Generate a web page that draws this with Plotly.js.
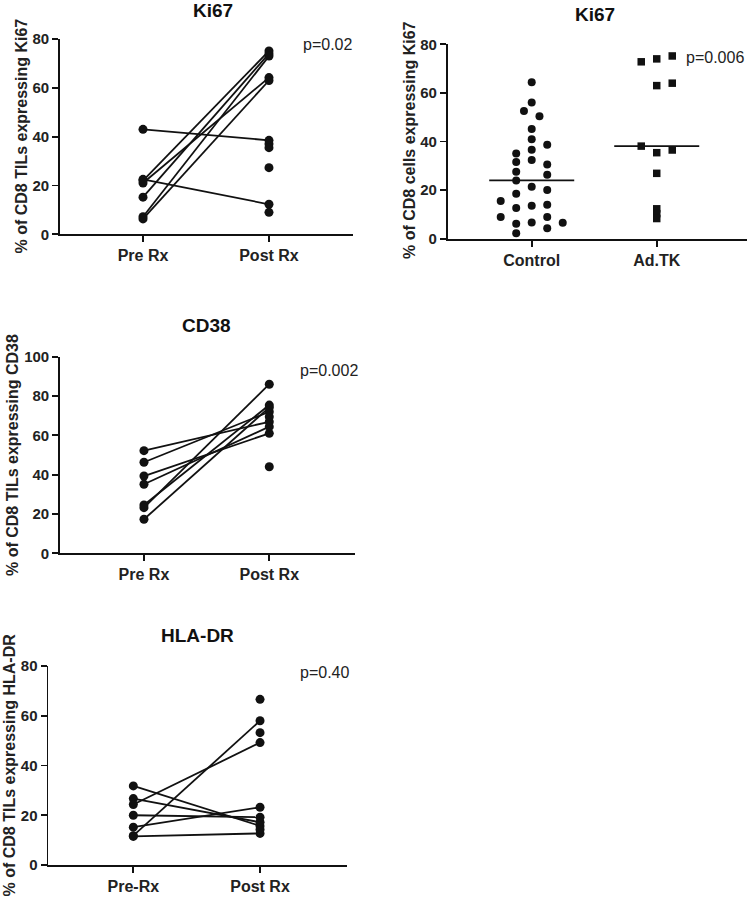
<!DOCTYPE html>
<html><head><meta charset="utf-8">
<script src="https://cdn.plot.ly/plotly-3.0.1.min.js"></script>
<style>html,body{margin:0;padding:0;background:#fff}#chart{width:747px;height:899px}</style>
</head><body><div id="chart"></div>
<script>
// ---------- data ----------
const prePostLabels = ["Pre Rx", "Post Rx"];
const hlaLabels = ["Pre-Rx", "Post Rx"];
const groupLabels = ["Control", "Ad.TK"];

// Ki67 paired (left)
const ki67Pre = [43, 22.5, 22, 21, 15.2, 7.2, 6.3];
const ki67Post = [38.5, 12.3, 75.1, 64.2, 74, 73, 63];
const ki67PostUnpaired = [37, 35.5, 27.3, 9];

// Ki67 groups (right)
const controlVals = [64.4, 56, 52.6, 50.4, 45.1, 40.9, 38.7, 36.6, 35.1, 32.4, 31.6, 30.5, 27.6, 26.3, 23.9, 21.4, 20, 18.5, 15.5, 13.6, 14, 12.6, 8.9, 8.9, 6.2, 6.7, 6.6, 4.3, 2.2];
const controlCols = [0, 0, -0.5, 0.5, 0, 0, 1, 0, -1, 0, -1, 1, -1, 1, -1, 0, 1, -1, -2, 0, 1, -1, -2, 1, -1, 0, 2, 1, -1];
const adtkVals = [72.8, 74, 75.2, 63, 64, 38.1, 35.4, 36.5, 26.9, 12.3, 10.3, 8.3];
const adtkCols = [-1, 0, 1, 0, 1, -1, 0, 1, 0, 0, 0, 0];
const groupMedians = [24, 38.1];

// CD38 paired
const cd38Pre = [52.2, 46.3, 39.3, 35.1, 24.6, 23.2, 17.3];
const cd38Post = [66.9, 72, 61, 64.4, 75.4, 86, 74.2];
const cd38PostUnpaired = [69.5, 44];

// HLA-DR paired
const hlaPre = [31.8, 26.7, 24.3, 20, 15.2, 11.8, 11.5];
const hlaPost = [15.7, 17.2, 49.2, 19.2, 23.2, 58, 12.7];
const hlaPostUnpaired = [66.6, 53.2, 14.3];

// ---------- helpers ----------
const W = 747, H = 899;
const FONT = "Liberation Sans, Arial, Helvetica, sans-serif";
const INK = "#111";
const colStep = 0.124;

function pairTraces(pre, post, extra, xa, ya) {
  const lx = [], ly = [];
  pre.forEach((v, i) => { lx.push(0, 1, null); ly.push(v, post[i], null); });
  const px = pre.map(() => 0).concat(post.map(() => 1), extra.map(() => 1));
  const pyv = pre.concat(post, extra);
  return [
    {type: "scatter", mode: "lines", x: lx, y: ly, xaxis: xa, yaxis: ya,
     line: {color: INK, width: 1.8}, hoverinfo: "skip", cliponaxis: false, showlegend: false},
    {type: "scatter", mode: "markers", x: px, y: pyv, xaxis: xa, yaxis: ya,
     marker: {symbol: "circle", size: 9, color: INK}, cliponaxis: false, showlegend: false}
  ];
}

const traces = [];
traces.push(...pairTraces(ki67Pre, ki67Post, ki67PostUnpaired, "x", "y"));
traces.push(...pairTraces(cd38Pre, cd38Post, cd38PostUnpaired, "x3", "y3"));
traces.push(...pairTraces(hlaPre, hlaPost, hlaPostUnpaired, "x4", "y4"));

// Right panel
traces.push({type: "scatter", mode: "markers", xaxis: "x2", yaxis: "y2",
  x: controlCols.map(c => 0 + c * colStep), y: controlVals,
  marker: {symbol: "circle", size: 8, color: INK}, cliponaxis: false, showlegend: false});
traces.push({type: "scatter", mode: "markers", xaxis: "x2", yaxis: "y2",
  x: adtkCols.map(c => 1 + c * colStep), y: adtkVals,
  marker: {symbol: "square", size: 7.5, color: INK}, cliponaxis: false, showlegend: false});
groupMedians.forEach((m, i) => {
  traces.push({type: "scatter", mode: "lines", xaxis: "x2", yaxis: "y2",
    x: [i - 0.34, i + 0.34], y: [m, m], line: {color: INK, width: 1.8},
    cliponaxis: false, showlegend: false, hoverinfo: "skip"});
});

function xAxis(x0, x1, r, labels) {
  return {domain: [x0 / W, x1 / W], range: r, tickvals: [0, 1], ticktext: labels,
    showline: true, linecolor: INK, linewidth: 1.8, ticks: "outside", ticklen: 6,
    tickwidth: 1.8, tickcolor: INK, showgrid: false, zeroline: false, fixedrange: true,
    tickfont: {family: FONT, size: 16, color: "#222", weight: 700}};
}
function yAxis(yBottom, yTop, r, dt, anchor) {
  return {domain: [1 - yBottom / H, 1 - yTop / H], range: r, dtick: dt, tick0: 0,
    showline: true, linecolor: INK, linewidth: 1.8, ticks: "outside", ticklen: 6,
    tickwidth: 1.8, tickcolor: INK, showgrid: false, zeroline: false, anchor: anchor,
    tickfont: {family: FONT, size: 15, color: "#222", weight: 700}};
}

function ann(text, x, y, opts) {
  return Object.assign({text: text, x: x / W, y: 1 - y / H, xref: "paper", yref: "paper",
    showarrow: false, xanchor: "center", yanchor: "middle",
    font: {family: FONT, size: 19, color: "#111", weight: 700}}, opts || {});
}
const pFont = {family: FONT, size: 16, color: "#222", weight: 400};
const yTitleFont = {family: FONT, size: 16, color: "#222", weight: 700};

const layout = {
  width: W, height: H, margin: {l: 0, r: 0, t: 0, b: 0},
  paper_bgcolor: "#fff", plot_bgcolor: "rgba(0,0,0,0)", showlegend: false,
  xaxis: xAxis(60, 353, [-0.659, 1.667], prePostLabels),
  yaxis: yAxis(234.3, 39, [0, 80], 20, "x"),
  xaxis2: Object.assign(xAxis(447.7, 747, [-0.672, 1.722], groupLabels), {anchor: "y2"}),
  yaxis2: yAxis(238.7, 44.3, [0, 80], 20, "x2"),
  xaxis3: Object.assign(xAxis(60, 355, [-0.670, 1.684], prePostLabels), {anchor: "y3"}),
  yaxis3: yAxis(553.3, 356.7, [0, 100], 20, "x3"),
  xaxis4: Object.assign(xAxis(48.3, 346.7, [-0.671, 1.684], hlaLabels), {anchor: "y4"}),
  yaxis4: yAxis(865, 666, [0, 80], 20, "x4"),
  annotations: [
    ann("Ki67", 213, 11),
    ann("Ki67", 595, 14.5),
    ann("CD38", 206, 325),
    ann("HLA-DR", 197, 635),
    ann("p=0.02", 354, 45, {xanchor: "right", font: pFont}),
    ann("p=0.006", 746, 57, {xanchor: "right", font: pFont}),
    ann("p=0.002", 360, 370, {xanchor: "right", font: pFont}),
    ann("p=0.40", 351, 672.7, {xanchor: "right", font: pFont}),
    ann("% of CD8 TILs expressing Ki67", 21, 136.5, {textangle: -90, font: yTitleFont}),
    ann("% of CD8 cells expressing Ki67", 410, 140, {textangle: -90, font: yTitleFont}),
    ann("% of CD8 TILs expressing CD38", 12, 455, {textangle: -90, font: yTitleFont}),
    ann("% of CD8 TILs expressing HLA-DR", 9, 765.5, {textangle: -90, font: yTitleFont})
  ]
};

Plotly.newPlot("chart", traces, layout, {staticPlot: true, displayModeBar: false});
</script>
</body></html>
